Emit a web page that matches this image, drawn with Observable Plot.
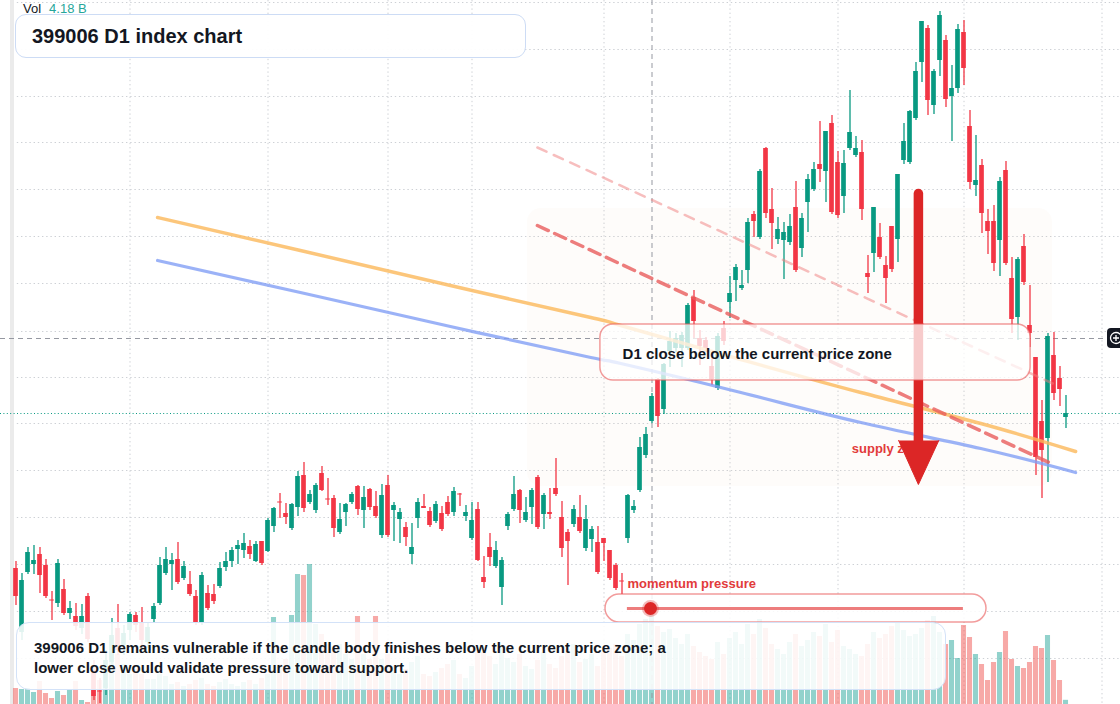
<!DOCTYPE html>
<html>
<head>
<meta charset="utf-8">
<script src="https://cdn.jsdelivr.net/npm/d3@7"></script>
<script src="https://cdn.jsdelivr.net/npm/@observablehq/plot@0.6"></script>
<style>
  html, body { margin: 0; padding: 0; background: #fff; }
  #chart { position: relative; width: 1120px; height: 704px; overflow: hidden;
           font-family: "Liberation Sans", Arial, sans-serif; color: #131722; }
  #chart svg { position: absolute; left: 0; top: 0; }
  .pane-edge { position: absolute; top: 0; height: 704px; }
  .vol-label { position: absolute; left: 23px; top: 1px; font-size: 13px; line-height: 16px; white-space: nowrap; }
  .vol-label span { color: #26a69a; margin-left: 8px; }
  .title-box { position: absolute; left: 15px; top: 14px; width: 511px; height: 44px;
               border: 1px solid #cddcf5; border-radius: 11px; background: rgba(255,255,255,0.94);
               box-sizing: border-box; padding-left: 16px; font-weight: bold; font-size: 20px;
               line-height: 43px; color: #131722; }
  .note-box { position: absolute; left: 16px; top: 622px; width: 930px; height: 68px;
              border: 1.5px solid #d3e2f8; border-radius: 13px; background: rgba(255,255,255,0.88);
              box-sizing: border-box; padding: 15px 0 0 17px; font-weight: bold; font-size: 15px;
              line-height: 20px; color: #131722; }
  .cross-tag { position: absolute; left: 1107px; top: 328px; width: 20px; height: 20px;
               background: #131722; border-radius: 4px; }
</style>
</head>
<body>
<div id="chart"></div>
<script>
// ---- 399006 daily session data (session index, OHLC, volume in B) ----
const session = d3.range(176);

const open = [
  1432,1368,1428,1436,1446,1435,1400.5,1397,1411,1387,1384,1372,1404,1330,1309.5,1312,1338,1372,1355,1370,
  1385,1378,1358,1381,1397,1427,1436,1441,1422,1416,1404,1378,1407,1406,1414,1433,1439,1451,1450,1454,
  1439,1459,1449,1474,1498.5,1487,1472,1493,1525,1498,1490,1527,1501.5,1502,1468,1488,1498,1514,1490,1511,
  1494,1465,1515,1490,1481,1473,1446,1482,1494,1489,1479,1487,1498,1488,1506.5,1484,1462,1491,1423,1453,
  1434,1413,1474,1491,1510,1480,1493,1523,1486,1488,1512,1483,1468,1476,1483,1452,1461,1458,1462,1450,
  1435,1419.5,1462,1490,1510,1545,1579,1621,1591,1649,1652,1652,1652,1703,1662,1660,1634,1612,1672,1698,
  1720,1712,1730,1786,1763,1852,1791,1761,1760,1758,1793,1752,1798,1811,1836,1829,1877,1838,1804,1852,
  1845,1848,1727,1747,1763,1735,1774,1761,1840,1838,1882,1938,1972,1895,1940,1960,1904,1912,1968,1874,
  1815,1835,1779,1779,1760,1830,1722,1683,1754,1675,1643,1579,1562,1645,1622,1583
];
const high = [
  1439,1427,1453,1455,1453,1441,1409,1441,1421,1399,1397,1396,1407,1340,1322,1350,1382,1396,1375,1388,
  1388,1393,1378,1397,1443,1453,1447,1458,1439,1429,1410,1428,1415,1416,1438,1448,1453,1460,1467,1460,
  1459,1459,1482,1493,1507,1497,1497,1529,1538,1510,1517,1534,1522,1505,1497,1497,1508,1515,1514,1512,
  1509,1516,1525,1498,1492,1478,1477,1502,1506,1493,1499,1494,1504,1513,1507,1495,1498,1498,1444,1467,
  1459,1443,1488,1524,1511,1503,1512,1525,1507,1512,1542,1499,1471,1495,1505,1495,1474,1474,1462,1450,
  1437,1427,1506,1500,1563,1573,1607,1622,1637,1669,1667,1668,1697,1710,1670,1663,1643,1667,1679,1724,
  1736,1730,1782,1789,1831,1853,1812,1783,1778,1786,1819,1787,1826,1838,1879,1869,1885,1849,1850,1910,
  1864,1860,1745,1793,1777,1744,1774,1826,1877,1890,1938,1979,1975,1931,1989,1965,1935,1976,1980,1890,
  1865,1841,1791,1795,1823,1839,1743,1743,1766,1715,1643,1600,1667,1668,1634,1605
];
const low = [
  1395,1360,1426,1426,1407,1402,1380,1393,1385,1381,1370,1366,1358,1300,1297,1305,1332,1345,1345,1360,
  1368,1350,1352,1378,1395,1425,1410,1416,1420,1404,1375,1375,1390,1396,1412,1429,1433,1436,1442,1441,
  1438,1435,1448,1468,1482,1476,1470,1484,1488,1496,1487,1509,1495,1463,1466,1474,1496,1485,1472,1490,
  1482,1462,1463,1459,1457,1454,1436,1472,1492,1473,1477,1469,1484,1484,1494,1479,1460,1439,1412,1434,
  1432,1395,1470,1489,1477,1478,1476,1471,1471,1481,1504,1443,1415,1473,1467,1449,1448,1426,1439,1420,
  1410,1406,1457,1487,1508,1542,1577,1573,1586,1633,1648,1633,1650,1662,1635,1648,1615,1610,1655,1682,
  1699,1710,1717,1763,1761,1782,1751,1756,1721,1755,1728,1743,1768,1809,1818,1798,1786,1782,1787,1850,
  1843,1780,1707,1728,1741,1697,1728,1738,1836,1836,1880,1918,1885,1886,1924,1893,1859,1907,1915,1811,
  1804,1767,1746,1729,1724,1735,1667,1660,1715,1653,1525,1502,1518,1600,1594,1572
];
const close = [
  1404,1420,1448,1440,1425,1404,1399.5,1437,1387,1392,1374,1384,1361,1304,1308.5,1340,1365,1350,1367,1386,
  1375,1360,1373,1394,1435,1441,1440,1418,1434,1406,1378,1425,1392,1399,1432,1439,1450,1455,1457,1446,
  1456,1437,1480,1492,1497.5,1483,1496,1524,1492,1506,1515,1510,1500.5,1472,1481,1496,1506,1491,1503,1493,
  1484,1505,1465,1495,1488,1463,1453,1498,1492,1475,1496,1471,1486,1509,1505.5,1488,1480,1440,1418,1443,
  1450,1440,1486,1506,1490,1488,1510,1473,1505,1486,1506,1452,1459,1491,1469,1481,1471,1428,1457,1422,
  1412,1418.5,1505,1494,1553,1566,1604,1584,1636,1659,1662,1665,1695,1679,1654,1652,1621,1664,1659,1707,
  1733,1715,1778,1779,1829,1787,1777,1771,1768,1774,1730,1782,1821,1831,1831,1869,1788,1785,1837,1868,
  1852,1791,1723,1793,1743,1722,1731,1826,1859,1889,1929,1979,1900,1929,1985,1901,1912,1971,1932,1818,
  1820,1787,1769,1737,1819,1737,1681,1741,1718,1667,1543,1550,1664,1607,1611,1587
];
const volume = [
  16,15,16,12,23,11,6,13,9,15,23,4,2,
  34,24,21,67,50,40,30,35,30,25,
  25,30,28,20,22,18,20,24,26,20,18,22,25,20,18,22,24,20,26,
  30,87,40,45,89,
  130,129,140,
  80,70,60,55,60,50,45,88,50,45,88,
  45,50,38,30,35,42,48,30,28,32,36,40,44,30,26,38,55,52,48,40,58,46,42,50,38,35,44,52,40,36,48,55,60,42,45,50,38,52,56,60,48,
  70,64,80,85,90,78,72,75,66,
  60,70,58,52,48,45,62,50,66,72,60,80,70,85,76,60,55,50,62,70,58,64,72,68,80,62,74,58,55,50,48,60,72,66,70,78,82,74,68,70,76,84,88,72,
  60,64,46,79,67,50,40,24,42,52,73,45,38,36,42,58,56,69,44,24,4.18
];

// Month-start sessions (vertical grid) and price grid levels
const monthStarts = [19, 42, 62, 76, 98, 119, 137, 158, 181];
const priceGrid = [1998, 1951, 1904, 1858, 1811, 1764, 1717, 1669, 1623, 1577, 1530, 1483, 1436, 1389, 1342];

// Overlay studies: two slow averages and two descending trend lines
const slowAvgA = [[23.6,1783],[47.4,1750],[72.4,1715],[95.8,1683],[100.8,1675],[120.8,1641],[140.8,1608],[160.8,1577],[176.6,1549]];
const slowAvgB = [[23.6,1740],[47.4,1708],[72.4,1674],[95.8,1643],[100.8,1637],[120.8,1608],[140.8,1578],[160.8,1552],[176.6,1528]];
const upperTrend = [[86.9,1853],[172.8,1617]];
const lowerTrend = [[86.9,1775],[172.9,1536]];

// Annotations
const supplyZone = {x1: 85.25, x2: 172.75, y1: 1514, y2: 1792, label: "supply zone", lx: 139.3, ly: 1552};
const arrow = {x: 150.4, top: 1807, headTop: 1560, tip: 1516, left: 147.1, right: 153.8};
const callout = {x1: 97.4, x2: 169.1, y1: 1620, y2: 1676, tx: 101.1, ty: 1646, text: "D1 close below the current price zone"};
const momentum = {x1: 98.25, x2: 161.75, y1: 1378, y2: 1406, lineFrom: 101.9, lineTo: 157.9, level: 1392,
                  marker: 105.75, label: "momentum pressure", ly: 1417};
const crosshair = {session: 106, price: 1662};

const UP = "#089981", DOWN = "#f23645";
const VOL_UP = "#26a69a", VOL_DOWN = "#ef5350";

const candles = session.map(i => ({
  i, o: open[i], h: high[i], l: low[i], c: close[i], v: volume[i], up: close[i] >= open[i]
}));

const xScale = {domain: [-15.5 / 6, (1120 - 15.5) / 6], axis: null};
const base = {width: 1120, height: 704, margin: 0, x: xScale,
              style: {background: "transparent", fontFamily: "Liberation Sans, Arial, sans-serif"}};
const priceY = {domain: [1296, 2000], axis: null};

const chart = document.getElementById("chart");

// Grid layer
chart.append(Plot.plot({
  ...base, y: priceY,
  marks: [
    Plot.ruleY(priceGrid, {stroke: "#cdd0d5", strokeDasharray: "1.4,2.8", strokeWidth: 1}),
    Plot.ruleX(monthStarts, {stroke: "#cdd0d5", strokeDasharray: "1.4,2.8", strokeWidth: 1})
  ]
}));

// Pane edge on the left
const white = document.createElement("div");
white.className = "pane-edge"; white.style.left = "0px"; white.style.width = "10px"; white.style.background = "#fff";
const strip = document.createElement("div");
strip.className = "pane-edge"; strip.style.left = "10px"; strip.style.width = "4px"; strip.style.background = "#ebebeb";
chart.append(white, strip);

// Volume layer
chart.append(Plot.plot({
  ...base, y: {domain: [0, 704], axis: null}, color: {type: "identity"},
  marks: [
    Plot.rect(candles, {x1: d => d.i - 0.42, x2: d => d.i + 0.42, y1: 0, y2: "v",
                        fill: d => d.up ? VOL_UP : VOL_DOWN, fillOpacity: 0.5})
  ]
}));

// Price layer
chart.append(Plot.plot({
  ...base, y: priceY, color: {type: "identity"},
  marks: [
    Plot.rect([supplyZone], {x1: "x1", x2: "x2", y1: "y1", y2: "y2", fill: "#f3c9a4", fillOpacity: 0.06, rx: 14}),
    Plot.ruleX([crosshair.session], {stroke: "#9598a1", strokeDasharray: "5,4", strokeWidth: 1}),
    Plot.ruleY([crosshair.price], {stroke: "#9598a1", strokeDasharray: "5,4", strokeWidth: 1}),
    Plot.ruleY([close[close.length - 1]], {stroke: UP, strokeDasharray: "1,2.4", strokeWidth: 1}),
    Plot.ruleX(candles, {x: "i", y1: "l", y2: "h", stroke: d => d.up ? UP : DOWN, strokeWidth: 1.3}),
    Plot.rect(candles, {x1: d => d.i - 0.39, x2: d => d.i + 0.39,
                        y1: d => Math.min(d.o, d.c), y2: d => Math.max(d.o, d.c, Math.min(d.o, d.c) + 1),
                        fill: d => d.up ? UP : DOWN}),
    Plot.line(slowAvgA, {x: d => d[0], y: d => d[1], curve: "natural", stroke: "#fbb85a", strokeOpacity: 0.8, strokeWidth: 3.5}),
    Plot.line(slowAvgB, {x: d => d[0], y: d => d[1], curve: "natural", stroke: "#7f9cf5", strokeOpacity: 0.78, strokeWidth: 3.2}),
    Plot.line(upperTrend, {x: d => d[0], y: d => d[1], stroke: "#ef7d7d", strokeOpacity: 0.5, strokeWidth: 2.5, strokeDasharray: "10,8"}),
    Plot.line(lowerTrend, {x: d => d[0], y: d => d[1], stroke: "#e85c5c", strokeOpacity: 0.8, strokeWidth: 3.5, strokeDasharray: "12,7"}),
    Plot.text([supplyZone], {x: "lx", y: "ly", text: "label", textAnchor: "start", fill: "#e23b3b",
                             fontSize: 13, fontWeight: "bold"}),
    Plot.link([arrow], {x1: "x", x2: "x", y1: "top", y2: "headTop", stroke: "#dc2626", strokeWidth: 9.5, strokeLinecap: "round"}),
    Plot.line([[arrow.left, arrow.headTop], [arrow.x, arrow.tip], [arrow.right, arrow.headTop]],
              {x: d => d[0], y: d => d[1], fill: "#dc2626", stroke: "#dc2626", strokeWidth: 1}),
    Plot.rect([callout], {x1: "x1", x2: "x2", y1: "y1", y2: "y2", fill: "#ffffff", fillOpacity: 0.76,
                          stroke: "#ea5a5a", strokeOpacity: 0.6, strokeWidth: 1.5, rx: 13}),
    Plot.text([callout], {x: "tx", y: "ty", text: "text", textAnchor: "start", fill: "#131722",
                          fontSize: 15, fontWeight: "bold"}),
    Plot.text([momentum], {x: "lineFrom", y: "ly", text: "label", textAnchor: "start", fill: "#e23b3b",
                           fontSize: 13, fontWeight: "bold"}),
    Plot.rect([momentum], {x1: "x1", x2: "x2", y1: "y1", y2: "y2", fill: "#ffffff", fillOpacity: 0.85,
                           stroke: "#ea5a5a", strokeOpacity: 0.6, strokeWidth: 1.5, rx: 14}),
    Plot.ruleY([momentum], {y: "level", x1: "lineFrom", x2: "lineTo", stroke: "#e85c5c", strokeOpacity: 0.8, strokeWidth: 3}),
    Plot.dot([momentum], {x: "marker", y: "level", r: 8.5, fill: "#dc2626", fillOpacity: 0.3}),
    Plot.dot([momentum], {x: "marker", y: "level", r: 6.5, fill: "#dc2626"})
  ]
}));

// Header, legend and note
const vol = document.createElement("div");
vol.className = "vol-label";
vol.innerHTML = `Vol<span>${volume[volume.length - 1].toFixed(2)} B</span>`;
const title = document.createElement("div");
title.className = "title-box";
title.textContent = "399006 D1 index chart";
const note = document.createElement("div");
note.className = "note-box";
note.innerHTML = "399006 D1 remains vulnerable if the candle body finishes below the current price zone; a<br>lower close would validate pressure toward support.";
const tag = document.createElement("div");
tag.className = "cross-tag";
tag.innerHTML = `<svg width="20" height="20" style="position:absolute;left:0;top:0"><circle cx="9" cy="10" r="5.5" fill="none" stroke="#fff" stroke-width="1.3"/><path d="M9 7v6M6 10h6" stroke="#fff" stroke-width="1.3"/></svg>`;
chart.append(vol, title, note, tag);
</script>
</body>
</html>
